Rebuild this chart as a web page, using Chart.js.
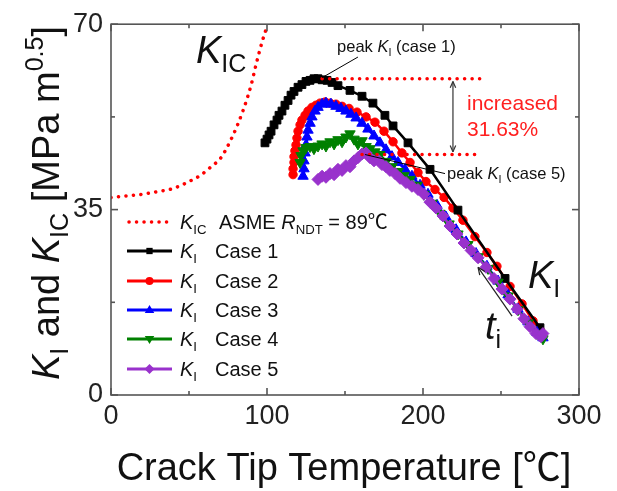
<!DOCTYPE html>
<html lang="en">
<head>
    <meta charset="UTF-8">
    <title>KI and KIC vs Crack Tip Temperature</title>
    <script src="https://cdn.jsdelivr.net/npm/chart.js"></script>
    <style>
        html, body { margin: 0; padding: 0; background: #fff; }
        #wrap { width: 617px; height: 491px; }
    </style>
</head>
<body>
    <div id="wrap"><canvas id="kChart" width="617" height="491"></canvas></div>

    <script>
        // ---- data ----
        const xTicks = [0, 100, 200, 300];
        const xMinor = [50, 150, 250];
        const yTicks = [0, 35, 70];
        const yMinor = [17.5, 52.5];

        // ASME KIC curve (RT_NDT = 89 C)
        const kicT = [0, 10, 20, 30, 40, 50, 57, 65, 70, 78, 85, 90, 93, 97, 100.5];
        const kicK = [37.3, 37.6, 37.9, 38.4, 39.0, 40.3, 41.4, 43.3, 44.6, 48.9, 54.0, 58.7, 62.4, 66.8, 70.0];

        const case1T = [98.7, 100.0, 101.3, 102.6, 104.5, 106.4, 107.7, 109.6, 111.5, 113.5, 115.4, 117.3, 119.9, 122.4, 125.0, 127.6, 130.1, 132.7, 135.3, 138.5, 141.7, 145.5, 153.2, 160.9, 167.9, 175.6, 180.8, 190.4, 204.5, 222.4, 252.6, 275.0];
        const case1K = [47.6, 48.3, 49.1, 49.8, 51.0, 51.9, 52.8, 53.6, 54.7, 55.6, 56.6, 57.3, 58.1, 58.6, 59.2, 59.4, 59.7, 59.7, 59.5, 59.4, 59.0, 58.4, 57.5, 56.4, 55.1, 52.8, 50.8, 47.6, 42.6, 34.9, 22.0, 12.7];

        const case2T = [116.7, 116.7, 117.3, 117.3, 117.9, 118.6, 119.2, 119.9, 121.2, 122.4, 124.4, 126.3, 128.8, 131.4, 134.0, 137.2, 140.4, 144.2, 148.1, 152.6, 157.7, 163.5, 169.2, 175.0, 180.8, 186.5, 191.7, 196.8, 201.9, 207.7, 213.5, 219.2, 225.6, 233.3, 241.0, 247.4, 255.8, 263.5, 270.5, 275.0];
        const case2K = [41.6, 42.7, 43.9, 45.0, 46.1, 47.2, 48.5, 49.8, 51.0, 51.9, 52.8, 53.6, 54.3, 54.7, 55.1, 55.3, 55.1, 54.9, 54.5, 54.1, 53.4, 52.5, 51.5, 49.8, 47.8, 45.7, 43.9, 42.0, 40.3, 38.8, 37.3, 35.3, 33.0, 29.9, 26.9, 24.3, 20.5, 17.2, 14.0, 12.3];

        const case3T = [123.1, 123.7, 123.7, 124.4, 125.0, 125.6, 126.3, 127.6, 128.8, 130.8, 132.7, 135.3, 137.8, 141.0, 144.2, 147.4, 150.6, 153.8, 157.1, 160.9, 164.7, 168.6, 172.4, 176.3, 180.1, 184.0, 188.5, 192.9, 198.1, 203.2, 209.0, 214.7, 221.2, 227.6, 234.0, 241.0, 248.1, 254.5, 260.9, 267.3, 273.1, 276.9];
        const case3K = [41.3, 42.7, 44.2, 45.7, 47.2, 48.7, 50.0, 51.3, 52.5, 53.6, 54.3, 54.9, 55.1, 54.9, 54.5, 54.1, 53.6, 53.0, 52.3, 51.3, 50.2, 48.9, 47.6, 46.3, 45.0, 43.9, 42.6, 41.3, 39.6, 37.9, 35.8, 33.6, 31.2, 28.9, 26.7, 24.3, 21.5, 18.9, 16.2, 13.8, 11.8, 10.8];

        const case4T = [121.2, 121.8, 123.1, 125.0, 127.6, 130.1, 132.7, 135.3, 137.8, 140.4, 143.0, 145.5, 148.1, 150.6, 153.2, 155.8, 158.3, 160.9, 163.5, 166.0, 169.2, 172.4, 176.3, 180.1, 184.0, 187.8, 191.7, 196.2, 200.6, 205.8, 210.9, 216.7, 222.4, 228.8, 235.3, 241.7, 248.1, 254.5, 260.9, 267.3, 273.1, 276.9];
        const case4K = [43.9, 45.2, 46.1, 46.7, 46.9, 46.5, 47.0, 47.4, 47.0, 47.8, 47.4, 48.2, 47.8, 48.7, 49.3, 48.3, 47.4, 48.0, 46.9, 46.5, 45.9, 45.4, 44.1, 43.1, 42.2, 41.4, 40.7, 39.6, 37.9, 36.2, 34.3, 32.3, 30.4, 28.4, 26.1, 23.9, 21.3, 18.7, 16.1, 13.6, 11.6, 10.6];

        const case5T = [132.7, 135.3, 137.8, 140.4, 143.0, 145.5, 148.1, 150.6, 153.2, 155.8, 158.3, 160.9, 163.5, 166.0, 168.6, 171.2, 173.7, 176.3, 178.8, 182.1, 185.3, 189.1, 192.9, 196.8, 200.6, 204.5, 208.3, 212.8, 217.3, 221.8, 226.3, 230.8, 235.3, 240.4, 245.5, 250.6, 255.8, 260.3, 264.7, 268.6, 272.4, 275.6, 276.9];
        const case5K = [40.7, 41.3, 41.1, 41.8, 41.6, 42.6, 42.4, 43.3, 43.1, 44.2, 44.8, 45.5, 45.7, 44.8, 44.2, 44.4, 43.5, 43.1, 42.4, 41.8, 40.9, 40.1, 39.4, 38.8, 37.9, 36.4, 35.3, 33.8, 31.9, 30.4, 28.7, 27.3, 25.9, 24.1, 22.0, 20.0, 18.1, 16.2, 14.4, 12.9, 11.6, 11.0, 11.6];

        const caseNames = ['Case 1', 'Case 2', 'Case 3', 'Case 4', 'Case 5'];
        const caseColors = ['#000000', '#ff0000', '#0000ff', '#008000', '#9932cc'];
        const peak1 = 59.7;   // peak KI case 1
        const peak5 = 45.4;   // peak KI case 5

        const FONT = '"Liberation Sans", Arial, "Noto Sans CJK KR", sans-serif';

        function pts(xs, ys) {
            return xs.map((v, i) => ({ x: v, y: ys[i] }));
        }

        // text with italic / subscript / superscript pieces
        function setSegFont(ctx, p, size) {
            const s = (p.sub || p.sup) ? size * 0.66 : size;
            ctx.font = (p.it ? 'italic ' : '') + s + 'px ' + FONT;
        }
        function drawRich(ctx, parts, x, y, size, color, align) {
            let w = 0;
            parts.forEach(p => { setSegFont(ctx, p, size); w += ctx.measureText(p.t).width; });
            let cx = align === 'center' ? x - w / 2 : (align === 'right' ? x - w : x);
            ctx.fillStyle = color;
            ctx.textAlign = 'left';
            ctx.textBaseline = 'alphabetic';
            parts.forEach(p => {
                setSegFont(ctx, p, size);
                const dy = p.sub ? size * 0.24 : (p.sup ? -size * 0.42 : 0);
                ctx.fillText(p.t, cx, y + dy);
                cx += ctx.measureText(p.t).width;
            });
        }
        function line(ctx, x1, y1, x2, y2) {
            ctx.beginPath(); ctx.moveTo(x1, y1); ctx.lineTo(x2, y2); ctx.stroke();
        }
        function arrowHead(ctx, x1, y1, x2, y2, len) {
            // open V head at (x2,y2)
            const ang = Math.atan2(y2 - y1, x2 - x1);
            line(ctx, x2, y2, x2 - len * Math.cos(ang - 0.4), y2 - len * Math.sin(ang - 0.4));
            line(ctx, x2, y2, x2 - len * Math.cos(ang + 0.4), y2 - len * Math.sin(ang + 0.4));
        }
        function dotted(ctx, color) {
            ctx.strokeStyle = color;
            ctx.lineWidth = 3.5;
            ctx.lineCap = 'round';
            ctx.setLineDash([0.1, 7.4]);
        }
        function marker(ctx, style, x, y, r, color) {
            ctx.fillStyle = color;
            ctx.beginPath();
            if (style === 'rect') {
                ctx.rect(x - r * 0.7, y - r * 0.7, r * 1.4, r * 1.4);
            } else if (style === 'circle') {
                ctx.arc(x, y, r, 0, Math.PI * 2);
            } else if (style === 'up') {
                ctx.moveTo(x, y - r); ctx.lineTo(x + r * 0.95, y + r * 0.6); ctx.lineTo(x - r * 0.95, y + r * 0.6);
            } else if (style === 'down') {
                ctx.moveTo(x, y + r); ctx.lineTo(x + r * 0.95, y - r * 0.6); ctx.lineTo(x - r * 0.95, y - r * 0.6);
            } else {
                ctx.moveTo(x, y - r); ctx.lineTo(x + r, y); ctx.lineTo(x, y + r); ctx.lineTo(x - r, y);
            }
            ctx.closePath();
            ctx.fill();
        }

        const overlay = {
            id: 'overlay',
            afterDatasetsDraw(chart) {
                const { ctx, chartArea: a, scales: { x, y } } = chart;
                ctx.save();

                // frame and inward ticks on all four sides
                ctx.strokeStyle = '#555';
                ctx.lineWidth = 1.6;
                ctx.strokeRect(a.left, a.top, a.right - a.left, a.bottom - a.top);
                const tick = (vals, len) => {
                    vals.forEach(v => {
                        const px = x.getPixelForValue(v);
                        line(ctx, px, a.bottom, px, a.bottom - len);
                        line(ctx, px, a.top, px, a.top + len);
                    });
                };
                const ytick = (vals, len) => {
                    vals.forEach(v => {
                        const py = y.getPixelForValue(v);
                        line(ctx, a.left, py, a.left + len, py);
                        line(ctx, a.right, py, a.right - len, py);
                    });
                };
                tick(xTicks, 7); tick(xMinor, 4);
                ytick(yTicks, 7); ytick(yMinor, 4);

                // red dotted peak lines
                ctx.save();
                dotted(ctx, '#ff0000');
                line(ctx, x.getPixelForValue(135.3), y.getPixelForValue(peak1), x.getPixelForValue(236.5), y.getPixelForValue(peak1));
                line(ctx, x.getPixelForValue(160.9), y.getPixelForValue(peak5), x.getPixelForValue(235.3), y.getPixelForValue(peak5));
                ctx.restore();

                // double arrow between peaks
                ctx.strokeStyle = '#333';
                ctx.lineWidth = 1.2;
                const ax = x.getPixelForValue(219.2);
                const ay1 = y.getPixelForValue(59.2), ay2 = y.getPixelForValue(45.9);
                line(ctx, ax, ay1, ax, ay2);
                arrowHead(ctx, ax, ay2, ax, ay1, 7);
                arrowHead(ctx, ax, ay1, ax, ay2, 7);

                // leader lines
                ctx.strokeStyle = '#000';
                ctx.lineWidth = 1;
                line(ctx, x.getPixelForValue(158.3), y.getPixelForValue(63.8), x.getPixelForValue(135.3), y.getPixelForValue(59.9));
                line(ctx, x.getPixelForValue(162.8), y.getPixelForValue(45.4), x.getPixelForValue(214.1), y.getPixelForValue(41.8));

                // time arrow
                ctx.strokeStyle = '#222';
                ctx.lineWidth = 1.2;
                const t1x = x.getPixelForValue(257.1), t1y = y.getPixelForValue(14.9);
                const t2x = x.getPixelForValue(235.3), t2y = y.getPixelForValue(24.1);
                line(ctx, t1x, t1y, t2x, t2y);
                arrowHead(ctx, t1x, t1y, t2x, t2y, 8);

                // texts
                drawRich(ctx, [{ t: 'K', it: true }, { t: 'IC', sub: true }], x.getPixelForValue(54.5), y.getPixelForValue(62.7), 38, '#111', 'left');
                drawRich(ctx, [{ t: 'K', it: true }, { t: 'I', sub: true }], x.getPixelForValue(267.3), y.getPixelForValue(20.2), 38, '#111', 'left');
                drawRich(ctx, [{ t: 't', it: true }, { t: 'i', sub: true }], x.getPixelForValue(239.7), y.getPixelForValue(10.6), 38, '#111', 'left');
                drawRich(ctx, [{ t: 'peak ' }, { t: 'K', it: true }, { t: 'I', sub: true }, { t: ' (case 1)' }], x.getPixelForValue(144.9), y.getPixelForValue(64.8), 16.5, '#111', 'left');
                drawRich(ctx, [{ t: 'peak ' }, { t: 'K', it: true }, { t: 'I', sub: true }, { t: ' (case 5)' }], x.getPixelForValue(215.4), y.getPixelForValue(40.7), 16.5, '#111', 'left');
                drawRich(ctx, [{ t: 'increased' }], x.getPixelForValue(228.2), y.getPixelForValue(53.8), 21, '#ff2020', 'left');
                drawRich(ctx, [{ t: '31.63%' }], x.getPixelForValue(228.2), y.getPixelForValue(48.9), 21, '#ff2020', 'left');

                ctx.restore();
            },
            afterDraw(chart) {
                const { ctx } = chart;
                ctx.save();

                // legend
                const lx1 = 127, lx2 = 172, tx = 180;
                const rows = [222, 251, 281, 310, 339, 369];
                ctx.save();
                dotted(ctx, '#ff0000');
                line(ctx, lx1 + 2, rows[0], lx2 - 2, rows[0]);
                ctx.restore();
                drawRich(ctx, [{ t: 'K', it: true }, { t: 'IC', sub: true }], tx, rows[0] + 7, 20, '#111', 'left');
                drawRich(ctx, [{ t: 'ASME ' }, { t: 'R', it: true }, { t: 'NDT', sub: true }, { t: ' = 89℃' }], 219, rows[0] + 7, 20, '#111', 'left');
                const mk = ['rect', 'circle', 'up', 'down', 'diamond'];
                const mr = [4.5, 4, 5, 5, 5];
                caseNames.forEach((name, i) => {
                    const ry = rows[i + 1];
                    ctx.strokeStyle = caseColors[i];
                    ctx.lineWidth = 3;
                    ctx.setLineDash([]);
                    line(ctx, lx1, ry, lx2, ry);
                    marker(ctx, mk[i], (lx1 + lx2) / 2, ry, mr[i], caseColors[i]);
                    drawRich(ctx, [{ t: 'K', it: true }, { t: 'I', sub: true }], tx, ry + 7, 20, '#111', 'left');
                    drawRich(ctx, [{ t: name }], 215, ry + 7, 20, '#111', 'left');
                });

                // axis titles
                drawRich(ctx, [{ t: 'Crack Tip Temperature [℃]' }], 344, 480, 38, '#111', 'center');
                ctx.translate(59, 203);
                ctx.rotate(-Math.PI / 2);
                drawRich(ctx, [{ t: 'K', it: true }, { t: 'I', sub: true }, { t: ' and ' }, { t: 'K', it: true }, { t: 'IC', sub: true }, { t: ' [MPa m' }, { t: '0.5', sup: true }, { t: ']' }], 0, 0, 38, '#111', 'center');

                ctx.restore();
            }
        };

        function series(label, xs, ys, color, style, radius, order, rotation) {
            return {
                label: label,
                data: pts(xs, ys),
                borderColor: color,
                backgroundColor: color,
                borderWidth: 2.5,
                pointStyle: style,
                pointRadius: radius,
                pointRotation: rotation || 0,
                pointBorderWidth: 1,
                pointBorderColor: color,
                pointBackgroundColor: color,
                tension: 0,
                order: order
            };
        }

        const ctx = document.getElementById('kChart').getContext('2d');
        new Chart(ctx, {
            type: 'line',
            data: {
                datasets: [
                    series('KI Case 5', case5T, case5K, caseColors[4], 'rectRot', 6, 0),
                    series('KI Case 4', case4T, case4K, caseColors[3], 'triangle', 6, 1, 180),
                    series('KI Case 3', case3T, case3K, caseColors[2], 'triangle', 6, 2),
                    series('KI Case 1', case1T, case1K, caseColors[0], 'rect', 5.5, 3),
                    series('KI Case 2', case2T, case2K, caseColors[1], 'circle', 4.2, 4),
                    {
                        label: 'KIC ASME',
                        data: pts(kicT, kicK),
                        borderColor: '#ff0000',
                        borderWidth: 3.5,
                        borderDash: [0.1, 7.4],
                        borderCapStyle: 'round',
                        pointRadius: 0,
                        cubicInterpolationMode: 'monotone',
                        order: 5
                    }
                ]
            },
            options: {
                responsive: false,
                animation: false,
                layout: { padding: { top: 20, right: 38, left: 0, bottom: 0 } },
                plugins: {
                    legend: { display: false },
                    tooltip: { enabled: false }
                },
                scales: {
                    x: {
                        type: 'linear',
                        min: 0,
                        max: 300,
                        afterBuildTicks: s => { s.ticks = xTicks.map(v => ({ value: v })); },
                        afterFit: s => { s.height = 96; },
                        grid: { display: false, drawTicks: false },
                        border: { display: false },
                        ticks: {
                            autoSkip: false,
                            maxRotation: 0,
                            padding: 5,
                            color: '#222',
                            font: { size: 27, family: FONT }
                        }
                    },
                    y: {
                        type: 'linear',
                        min: 0,
                        max: 70,
                        afterBuildTicks: s => { s.ticks = yTicks.map(v => ({ value: v })); },
                        afterFit: s => { s.width = 111; },
                        grid: { display: false, drawTicks: false },
                        border: { display: false },
                        ticks: {
                            padding: 8,
                            color: '#222',
                            font: { size: 27, family: FONT }
                        }
                    }
                }
            },
            plugins: [overlay]
        });
    </script>
</body>
</html>
